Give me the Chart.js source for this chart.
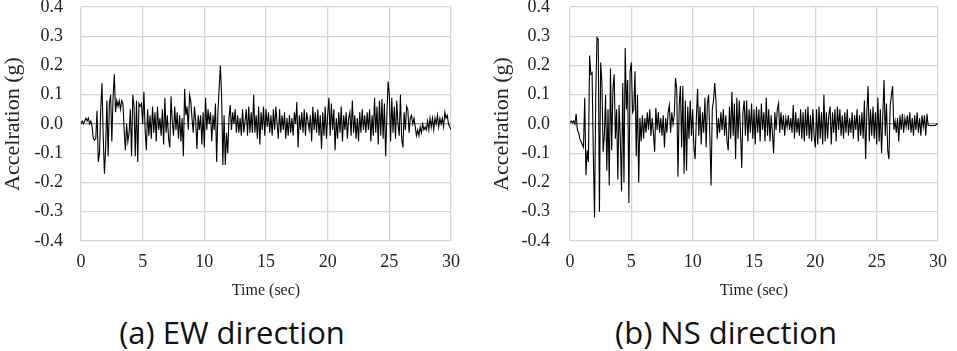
<!DOCTYPE html>
<html>
<head>
<meta charset="utf-8">
<script src="https://cdn.jsdelivr.net/npm/chart.js@4.4.1/dist/chart.umd.min.js"></script>
<style>
  body { margin: 0; background: #fff; width: 957px; height: 351px; position: relative; overflow: hidden; }
  canvas { position: absolute; top: 0; }
  #ewChart { left: 0; }
  #nsChart { left: 480px; }
  .caption {
    position: absolute; top: 314px; line-height: 36px;
    font-family: "Open Sans", sans-serif; font-size: 31px; color: #111;
    white-space: nowrap; transform: translateX(-50%);
  }
</style>
</head>
<body>
<canvas id="ewChart" width="470" height="305"></canvas>
<canvas id="nsChart" width="477" height="305"></canvas>
<div class="caption" style="left:232px">(a) EW direction</div>
<div class="caption" style="left:726px">(b) NS direction</div>
<script>
// record sampled every 0.1 s, 0..30 s
const TIME_STEP = 0.1;

// EW acceleration (g)
const EW_ACCEL = [
  0.00, 0.01, 0.00, 0.01, 0.02, 0.01, 0.02, 0.00, 0.01, -0.01,
  -0.05, -0.055, -0.05, 0.045, -0.13, -0.10, 0.05, 0.14, -0.04, -0.17,
  -0.08, 0.08, -0.11, 0.07, 0.10, -0.06, 0.09, 0.17, 0.04, 0.08,
  0.06, 0.08, 0.05, 0.08, 0.07, -0.02, -0.09, 0.00, -0.06, -0.03,
  0.05, -0.11, 0.10, 0.06, -0.11, 0.08, -0.13, 0.07, 0.06, 0.07,
  0.00, 0.11, -0.02, -0.09, 0.05, -0.04, 0.03, -0.05, 0.06, -0.03,
  0.04, -0.06, 0.06, -0.02, 0.02, -0.04, 0.05, -0.07, 0.09, -0.03,
  0.03, -0.05, -0.08, 0.095, 0.01, -0.04, 0.06, -0.02, 0.04, -0.05,
  0.03, -0.06, 0.02, -0.11, 0.12, 0.03, 0.06, -0.02, 0.10, 0.08,
  0.02, -0.03, 0.06, 0.01, -0.085, 0.03, -0.02, 0.03, -0.07, 0.04,
  -0.08, 0.09, -0.02, 0.05, 0.00, 0.04, -0.06, 0.03, -0.02, 0.07,
  -0.13, 0.04, 0.12, 0.20, 0.10, -0.14, 0.03, -0.14, -0.03, -0.10,
  0.02, 0.065, -0.02, 0.04, 0.00, 0.05, -0.03, 0.03, -0.03, 0.02,
  -0.04, 0.05, -0.03, 0.01, 0.05, -0.04, 0.06, -0.03, 0.04, -0.03,
  0.10, -0.03, 0.03, -0.05, 0.06, -0.07, 0.04, -0.02, 0.06, -0.04,
  0.05, -0.01, 0.04, -0.03, 0.03, -0.04, 0.05, -0.02, 0.06, 0.00,
  -0.05, 0.05, -0.03, 0.03, -0.02, 0.04, -0.05, 0.02, -0.04, 0.03,
  -0.03, 0.02, -0.04, 0.04, 0.00, 0.075, -0.08, 0.03, -0.02, 0.04,
  -0.03, 0.05, -0.04, 0.04, 0.01, -0.02, 0.03, -0.06, 0.06, -0.02,
  0.04, -0.03, 0.05, -0.04, 0.03, -0.085, 0.04, -0.04, 0.06, -0.05,
  0.03, 0.09, -0.04, 0.07, -0.02, 0.05, -0.09, 0.02, -0.05, 0.04,
  -0.03, 0.06, -0.06, 0.03, -0.02, 0.04, -0.05, 0.02, 0.04, -0.04,
  0.08, -0.03, 0.03, -0.05, 0.02, -0.06, 0.04, -0.03, 0.05, -0.02,
  0.03, -0.03, 0.04, -0.02, 0.05, -0.06, 0.03, -0.04, 0.09, -0.03,
  0.06, -0.07, 0.08, -0.04, 0.085, -0.05, 0.07, -0.11, 0.03, 0.145,
  0.10, -0.06, 0.09, -0.03, 0.06, -0.05, 0.08, 0.00, -0.04, 0.10,
  -0.05, -0.08, 0.04, -0.02, 0.06, 0.05, -0.03, 0.02, 0.03, 0.00,
  0.02, -0.01, -0.04, -0.02, -0.04, -0.01, -0.03, 0.00, -0.02, -0.01,
  -0.02, 0.01, -0.02, 0.02, -0.01, 0.02, -0.02, 0.02, 0.00, 0.03,
  -0.01, 0.02, 0.00, 0.02, -0.01, 0.04, 0.02, 0.03, 0.00, -0.01,
  -0.02
];

// NS acceleration (g)
const NS_ACCEL = [
  0.005, 0.01, 0.005, 0.01, 0.00, 0.035, -0.02, -0.03, -0.05, -0.06,
  -0.07, -0.08, 0.09, -0.175, -0.09, -0.13, 0.234, 0.17, 0.175, -0.10,
  -0.32, 0.10, 0.296, 0.29, -0.30, 0.21, 0.145, -0.095, -0.04, 0.10,
  -0.16, 0.05, -0.21, 0.19, -0.09, 0.12, 0.17, -0.05, 0.05, -0.19,
  0.065, -0.05, -0.23, 0.14, -0.20, 0.26, 0.05, 0.15, -0.27, 0.18,
  0.21, 0.04, 0.05, 0.18, -0.11, 0.10, -0.20, 0.02, -0.06, 0.03,
  -0.05, 0.02, -0.03, 0.04, -0.02, 0.05, -0.04, 0.02, -0.03, -0.095,
  0.055, -0.02, 0.04, -0.03, 0.02, -0.04, 0.03, -0.08, 0.02, -0.03,
  0.04, 0.065, -0.03, 0.04, 0.00, 0.03, 0.157, 0.12, -0.18, 0.06,
  0.13, -0.08, 0.13, -0.17, 0.08, -0.16, 0.06, -0.05, 0.08, -0.04,
  0.05, -0.08, -0.12, 0.02, 0.12, -0.04, 0.06, -0.07, 0.04, -0.03,
  0.09, -0.08, 0.07, 0.10, -0.04, -0.21, 0.05, 0.08, 0.14, 0.08,
  -0.05, 0.02, -0.03, 0.04, -0.02, 0.05, -0.04, 0.03, -0.06, -0.09,
  0.06, -0.05, 0.11, -0.04, 0.07, -0.12, 0.09, -0.05, 0.08, -0.03,
  -0.15, 0.04, 0.08, -0.04, 0.08, -0.06, 0.05, -0.03, 0.07, -0.05,
  0.05, -0.07, 0.06, -0.03, 0.05, -0.06, 0.07, -0.02, 0.04, -0.06,
  0.09, -0.04, 0.05, -0.06, 0.03, -0.03, -0.10, 0.04, -0.02, 0.05,
  0.07, -0.03, 0.04, -0.02, 0.03, -0.04, 0.02, -0.01, 0.03, -0.02,
  0.02, -0.03, 0.065, -0.05, 0.04, -0.03, 0.02, -0.04, 0.05, -0.05,
  0.04, -0.06, 0.05, -0.04, 0.06, -0.05, 0.03, -0.06, 0.05, -0.04,
  -0.08, 0.05, -0.07, 0.06, -0.05, 0.04, -0.07, 0.10, -0.06, 0.04,
  -0.05, 0.03, 0.06, -0.07, 0.04, -0.03, 0.05, -0.06, 0.06, -0.02,
  0.05, -0.04, 0.03, -0.05, 0.04, -0.03, 0.05, -0.04, 0.02, -0.03,
  0.04, -0.05, 0.03, -0.02, 0.05, -0.06, 0.03, -0.04, 0.04, -0.05,
  0.08, -0.12, 0.04, 0.13, -0.06, 0.05, -0.04, 0.06, -0.05, 0.04,
  -0.07, 0.09, -0.06, 0.05, -0.10, 0.03, 0.15, -0.04, 0.07, -0.09,
  -0.12, 0.06, 0.10, 0.13, -0.02, 0.01, -0.03, 0.02, -0.06, 0.03,
  -0.02, 0.035, -0.03, 0.02, -0.01, 0.03, -0.02, 0.04, -0.03, 0.02,
  -0.04, 0.03, -0.02, 0.04, -0.03, 0.02, -0.04, 0.03, -0.01, 0.03,
  -0.04, 0.035, -0.005, -0.005, -0.005, -0.005, -0.005, -0.005, -0.005, 0.00,
  0.00
];

const Y_MIN = -0.4, Y_MAX = 0.4, Y_STEP = 0.1;
const X_MIN = 0, X_MAX = 30, X_STEP = 5;

const SERIF = "'Liberation Serif', 'Times New Roman', serif";
const GRID = '#d4d4d4';
const ZERO_LINE = '#8c8c8c';

function toPoints(values) {
  return values.map((v, i) => ({ x: +(i * TIME_STEP).toFixed(1), y: v }));
}

function makeChart(id, values, box) {
  return new Chart(document.getElementById(id), {
    type: 'line',
    data: {
      datasets: [{
        data: toPoints(values),
        borderColor: '#000',
        borderWidth: 1.1,
        pointRadius: 0,
        tension: 0,
        fill: false
      }]
    },
    options: {
      responsive: false,
      animation: false,
      layout: { padding: { top: 7, right: box.right, left: 0, bottom: 0 } },
      plugins: { legend: { display: false }, tooltip: { enabled: false } },
      scales: {
        x: {
          type: 'linear',
          min: X_MIN, max: X_MAX,
          border: { display: false },
          grid: { color: GRID, lineWidth: 1.3, drawTicks: false },
          ticks: {
            stepSize: X_STEP, padding: 10, color: '#222',
            font: { family: SERIF, size: 18 }
          },
          title: {
            display: true, text: 'Time (sec)', color: '#222',
            font: { family: SERIF, size: 16 },
            padding: { top: 0, bottom: 5 }
          },
          afterFit: (s) => { s.height = 64; }
        },
        y: {
          min: Y_MIN, max: Y_MAX,
          border: { display: false },
          grid: {
            drawTicks: false, lineWidth: 1.3,
            color: (ctx) => (ctx.tick && Math.abs(ctx.tick.value) < 1e-9 ? ZERO_LINE : GRID)
          },
          ticks: {
            stepSize: Y_STEP, padding: box.tickPad, color: '#222',
            font: { family: SERIF, size: 18 },
            callback: (v) => v.toFixed(1)
          },
          title: {
            display: true, text: 'Accelration (g)', color: '#222',
            font: { family: SERIF, size: 22 },
            padding: { top: box.titlePad, bottom: 0 }
          },
          afterFit: (s) => {
            s.width = box.left;
            // keep the plot top at the layout padding, not the label overhang
            s.paddingTop = 0;
            s.paddingBottom = 0;
          }
        }
      }
    }
  });
}

makeChart('ewChart', EW_ACCEL, { left: 81, right: 15, tickPad: 18, titlePad: 0 });
makeChart('nsChart', NS_ACCEL, { left: 90, right: 11, tickPad: 20, titlePad: 9 });
</script>
</body>
</html>
